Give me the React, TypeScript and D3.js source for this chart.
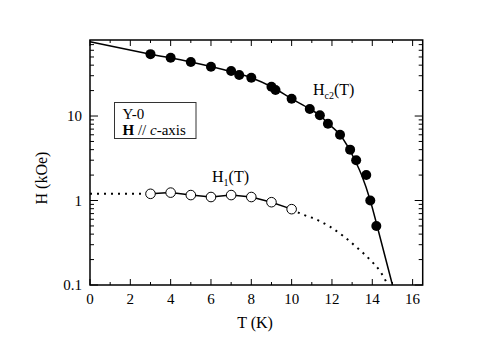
import React from 'react';
import * as d3 from 'd3';

// Hc2(T) measured points (filled)
const hc2T = [3, 4, 5, 6, 7, 7.4, 8, 9, 9.2, 10, 10.9, 11.4, 11.8, 12.4, 12.9, 13.2, 13.7, 13.9, 14.2];
const hc2H = [54, 49, 43.6, 38.3, 34.1, 30.6, 28.4, 22.2, 20.3, 16, 12.1, 10.2, 8.1, 6, 4, 3, 2, 1, 0.5];

// Hc2 fit curve
const fitT = [0, 3, 5, 7, 8, 9, 10, 10.9, 11.4, 11.8, 12.4, 13.14, 13.47, 13.9, 14.24, 15];
const fitH = [75.7, 54, 43.6, 33.5, 28.4, 22.2, 16, 12.1, 10.2, 8.2, 6, 3, 2, 1, 0.5, 0.1];

// H1(T) measured points (open)
const h1T = [3, 4, 5, 6, 7, 8, 9, 10];
const h1H = [1.2, 1.24, 1.16, 1.1, 1.16, 1.1, 0.955, 0.79];

// H1 dotted extrapolations
const dotLeftT = [0, 3];
const dotLeftH = [1.2, 1.2];
const dotRightT = [10, 10.5, 11.2, 11.9, 12.56, 13.22, 13.88, 14.43, 14.63, 14.77];
const dotRightH = [0.79, 0.69, 0.6, 0.49, 0.38, 0.28, 0.2, 0.14, 0.116, 0.1];

const xTicks = [0, 2, 4, 6, 8, 10, 12, 14, 16];
const yTicks = [0.1, 1, 10];

const W = 491, H = 339;
const m = { left: 90, right: 422.7, top: 40, bottom: 285 };

export default function App() {
  const x = d3.scaleLinear().domain([0, 16.5]).range([m.left, m.right]);
  const y = d3.scaleLog().domain([0.1, 79.4]).range([m.bottom, m.top]);

  const line = d3.line<[number, number]>()
    .x(d => x(d[0]))
    .y(d => y(d[1]))
    .curve(d3.curveMonotoneX);
  const lineLin = d3.line<[number, number]>().x(d => x(d[0])).y(d => y(d[1]));

  const zip = (a: number[], b: number[]) => a.map((v, i) => [v, b[i]] as [number, number]);

  const minorX = d3.range(0, 17, 1);
  const minorY: number[] = [];
  [0.1, 1, 10].forEach(dec => {
    for (let k = 2; k <= 9; k++) {
      const v = dec * k;
      if (v <= 79.4) minorY.push(v);
    }
  });

  const font = '"Liberation Serif", "Times New Roman", serif';

  return (
    <svg width={W} height={H} style={{ position: 'absolute', left: 0, top: 0, background: '#fff' }} fontFamily={font}>
      <rect x={0} y={0} width={W} height={H} fill="#fff" />
      {/* ticks */}
      <g stroke="#000" strokeWidth={1}>
        {minorX.map(t => {
          const len = t % 2 === 0 ? 6 : 3;
          return (
            <g key={'x' + t}>
              <line x1={x(t)} x2={x(t)} y1={m.bottom} y2={m.bottom - len} />
              <line x1={x(t)} x2={x(t)} y1={m.top} y2={m.top + len} />
            </g>
          );
        })}
        {yTicks.map(t => (
          <g key={'y' + t}>
            <line x1={m.left} x2={m.left + 8} y1={y(t)} y2={y(t)} />
            <line x1={m.right} x2={m.right - 8} y1={y(t)} y2={y(t)} />
          </g>
        ))}
        {minorY.map(t => (
          <g key={'ym' + t}>
            <line x1={m.left} x2={m.left + 4} y1={y(t)} y2={y(t)} />
            <line x1={m.right} x2={m.right - 4} y1={y(t)} y2={y(t)} />
          </g>
        ))}
      </g>
      <rect x={m.left} y={m.top} width={m.right - m.left} height={m.bottom - m.top} fill="none" stroke="#000" strokeWidth={1.5} />

      {/* tick labels */}
      <g fontSize={15} fill="#000">
        {xTicks.map(t => (
          <text key={'xl' + t} x={x(t)} y={m.bottom + 19} textAnchor="middle">{t}</text>
        ))}
        {yTicks.map(t => (
          <text key={'yl' + t} x={m.left - 8} y={y(t) + 5} textAnchor="end">{t}</text>
        ))}
      </g>
      <text x={255} y={328} fontSize={16} textAnchor="middle">T (K)</text>
      <text transform={`translate(47,178) rotate(-90)`} fontSize={16} textAnchor="middle">H (kOe)</text>

      {/* curves */}
      <path d={line(zip(fitT, fitH)) || ''} fill="none" stroke="#000" strokeWidth={1.5} />
      <path d={lineLin(zip(dotLeftT, dotLeftH)) || ''} fill="none" stroke="#000" strokeWidth={2} strokeDasharray="2,5" />
      <path d={line(zip(dotRightT, dotRightH)) || ''} fill="none" stroke="#000" strokeWidth={2} strokeDasharray="2,5" />
      <path d={lineLin(zip(h1T, h1H)) || ''} fill="none" stroke="#000" strokeWidth={1.5} />

      {hc2T.map((t, i) => (
        <circle key={'c' + i} cx={x(t)} cy={y(hc2H[i])} r={5} fill="#000" />
      ))}
      {h1T.map((t, i) => (
        <circle key={'o' + i} cx={x(t)} cy={y(h1H[i])} r={4.8} fill="#fff" stroke="#000" strokeWidth={1} />
      ))}

      {/* labels */}
      <text x={313} y={95} fontSize={16}>
        H<tspan fontSize={10} dy={4}>c2</tspan><tspan dy={-4}>(T)</tspan>
      </text>
      <text x={212} y={182} fontSize={16}>
        H<tspan fontSize={10} dy={4}>1</tspan><tspan dy={-4}>(T)</tspan>
      </text>

      {/* legend box */}
      <rect x={114.5} y={102.5} width={81.5} height={36} fill="#fff" stroke="#333" strokeWidth={1} />
      <text x={122.5} y={119} fontSize={15}>Y-0</text>
      <text x={122.5} y={134.5} fontSize={15}>
        <tspan fontWeight="bold">H</tspan> // <tspan fontStyle="italic">c</tspan>-axis
      </text>
    </svg>
  );
}
